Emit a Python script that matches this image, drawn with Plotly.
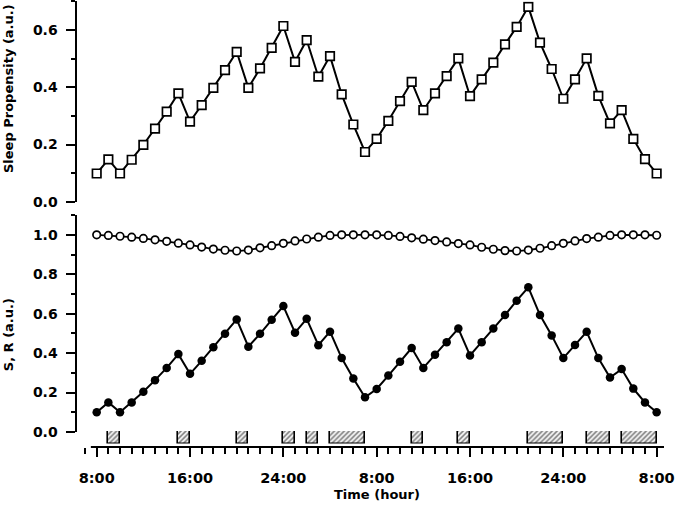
import plotly.graph_objects as go

# ---------------- data ----------------
hours = list(range(49))  # 8:00 day 1 .. 8:00 day 3, hourly

sleep_propensity = [0.099, 0.148, 0.099, 0.147, 0.199, 0.256, 0.315, 0.379, 0.280, 0.338,
                    0.398, 0.460, 0.524, 0.398, 0.466, 0.538, 0.614, 0.489, 0.565, 0.437,
                    0.509, 0.375, 0.270, 0.174, 0.220, 0.283, 0.352, 0.419, 0.320, 0.379,
                    0.439, 0.501, 0.369, 0.428, 0.486, 0.550, 0.611, 0.681, 0.556, 0.464,
                    0.360, 0.428, 0.501, 0.370, 0.274, 0.320, 0.220, 0.149, 0.099]

S_values = [0.100, 0.150, 0.100, 0.150, 0.204, 0.263, 0.325, 0.395, 0.295, 0.361,
            0.430, 0.498, 0.571, 0.433, 0.498, 0.569, 0.639, 0.504, 0.574, 0.440,
            0.509, 0.375, 0.271, 0.176, 0.218, 0.286, 0.356, 0.426, 0.325, 0.392,
            0.455, 0.525, 0.388, 0.455, 0.525, 0.593, 0.666, 0.734, 0.593, 0.490,
            0.375, 0.441, 0.508, 0.375, 0.276, 0.319, 0.220, 0.150, 0.100]

R_values = [1.000, 0.997, 0.993, 0.988, 0.982, 0.975, 0.967, 0.958, 0.949, 0.938,
            0.928, 0.922, 0.918, 0.923, 0.934, 0.945, 0.957, 0.969, 0.979, 0.988,
            0.997, 1.000, 1.000, 1.000, 1.000, 0.997, 0.992, 0.985, 0.978, 0.971,
            0.964, 0.956, 0.949, 0.937, 0.927, 0.920, 0.918, 0.923, 0.932, 0.945,
            0.957, 0.969, 0.981, 0.988, 0.997, 1.000, 1.000, 1.000, 0.998]

sleep_start = [1, 7, 12, 16, 18, 20, 27, 31, 37, 42, 45]
sleep_end = [2, 8, 13, 17, 19, 23, 28, 32, 40, 44, 48]

x_tickvals = [0, 8, 16, 24, 32, 40, 48]
x_ticktext = ["8:00", "16:00", "24:00", "8:00", "16:00", "24:00", "8:00"]

# ---------------- geometry (pixels) ----------------
W, H = 675, 506
ML, MR, MT, MB = 77, 11, 0, 59.3
PH = H - MT - MB  # plot height in px


def py(pix):  # pixel y -> paper y
    return (H - MB - pix) / PH


def px(pix):  # pixel x -> paper x
    return (pix - ML) / (W - ML - MR)


FONT = "DejaVu Sans"

fig = go.Figure()

# top panel
fig.add_trace(go.Scatter(
    x=hours, y=sleep_propensity, xaxis="x", yaxis="y", mode="lines+markers",
    line=dict(color="black", width=2),
    marker=dict(symbol="square", size=8.5, color="white", line=dict(color="black", width=1.7)),
    showlegend=False, hoverinfo="skip"))

# bottom panel: R (open circles)
fig.add_trace(go.Scatter(
    x=hours, y=R_values, xaxis="x", yaxis="y2", mode="lines+markers",
    line=dict(color="black", width=1.8),
    marker=dict(symbol="circle", size=7.5, color="white", line=dict(color="black", width=1.7)),
    showlegend=False, hoverinfo="skip"))

# bottom panel: S (filled circles)
fig.add_trace(go.Scatter(
    x=hours, y=S_values, xaxis="x", yaxis="y2", mode="lines+markers",
    line=dict(color="black", width=2),
    marker=dict(symbol="circle", size=8.5, color="black"),
    showlegend=False, hoverinfo="skip"))

# sleep bars (hatched)
centers = [(a + b) / 2 for a, b in zip(sleep_start, sleep_end)]
widths = [b - a for a, b in zip(sleep_start, sleep_end)]
fig.add_trace(go.Bar(
    x=centers, y=[1] * len(centers), width=widths, base=0, xaxis="x", yaxis="y3",
    marker=dict(color="white", line=dict(color="black", width=1.6),
                pattern=dict(shape="/", fgcolor="#111111", bgcolor="#f2f2f2", size=3.5, solidity=0.45)),
    showlegend=False, hoverinfo="skip"))

tickfont_y = dict(family=FONT, size=14, color="black", weight="bold")
tickfont_x = dict(family=FONT, size=14.5, color="black", weight="bold")

common_y = dict(showgrid=False, zeroline=False, showline=True, linecolor="black", linewidth=2,
                ticks="outside", ticklen=9.5, tickwidth=2, tickcolor="black",
                tickfont=tickfont_y, tickformat=".1f", anchor="x", ticklabelstandoff=5,
                fixedrange=True)

fig.update_layout(
    width=W, height=H,
    margin=dict(l=ML, r=MR, t=MT, b=MB, pad=0),
    plot_bgcolor="white", paper_bgcolor="white",
    bargap=0,
    xaxis=dict(domain=[0, 1], range=[(ML - 96.7) / 11.667, 48.63], anchor="free", position=0,
               showgrid=False, zeroline=False, showline=False,
               tickvals=x_tickvals, ticktext=x_ticktext,
               ticks="outside", ticklen=8.5, tickwidth=2, tickcolor="black",
               tickfont=tickfont_x, ticklabelstandoff=9,
               minor=dict(dtick=1, tick0=0, ticks="outside", ticklen=5.5, tickwidth=2,
                          tickcolor="black", showgrid=False),
               fixedrange=True),
    yaxis=dict(domain=[py(201.7), py(1.4)], range=[0, 0.7], dtick=0.2, tick0=0,
               minor=dict(dtick=0.1, tick0=0, ticks="outside", ticklen=4.5, tickwidth=2,
                          tickcolor="black", showgrid=False),
               **common_y),
    yaxis2=dict(domain=[py(431.7), py(215)], range=[0, 1.1], dtick=0.2, tick0=0,
                minor=dict(dtick=0.1, tick0=0, ticks="outside", ticklen=4.5, tickwidth=2,
                           tickcolor="black", showgrid=False),
                **common_y),
    yaxis3=dict(domain=[py(443.3), py(430.7)], range=[0, 1], visible=False, anchor="x",
                fixedrange=True),
    shapes=[dict(type="line", xref="x", yref="paper", x0=-0.5, x1=48.63, y0=0, y1=0,
                 line=dict(color="black", width=2), layer="above")],
    annotations=[
        dict(text="Sleep Propensity (a.u.)", textangle=-90, xref="paper", yref="paper",
             x=px(8), y=py(89), xanchor="center", yanchor="middle", showarrow=False,
             font=dict(family=FONT, size=13, color="black", weight="bold")),
        dict(text="S, R (a.u.)", textangle=-90, xref="paper", yref="paper",
             x=px(8), y=py(335), xanchor="center", yanchor="middle", showarrow=False,
             font=dict(family=FONT, size=13, color="black", weight="bold")),
        dict(text="Time (hour)", xref="x", yref="paper", x=24, y=py(494),
             xanchor="center", yanchor="middle", showarrow=False,
             font=dict(family=FONT, size=13, color="black", weight="bold")),
    ],
)

fig.write_html("out.html")
